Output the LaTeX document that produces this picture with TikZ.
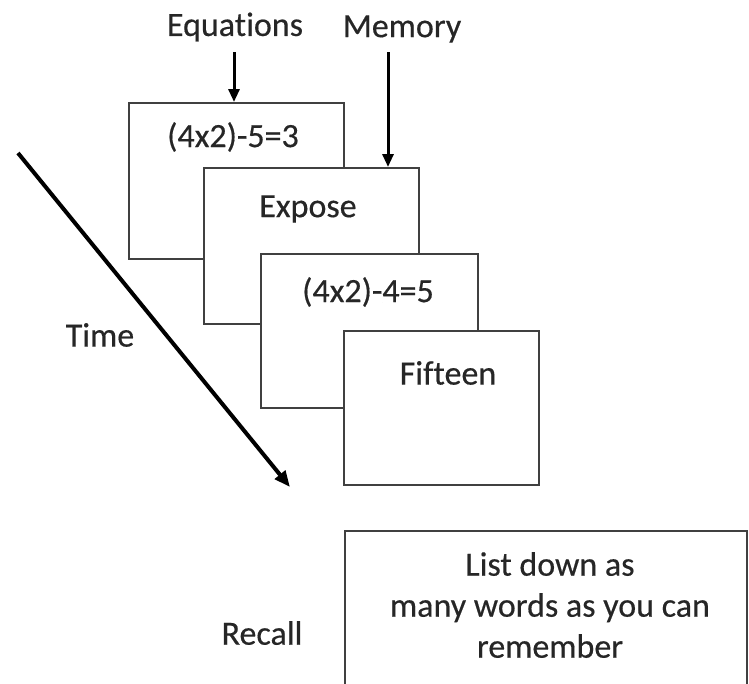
\documentclass[tikz,border=0pt]{standalone}
\usepackage{fontspec}
\setmainfont[Ligatures={NoCommon},FakeBold=0.4]{Carlito}
\usetikzlibrary{arrows.meta}
\begin{document}
\begin{tikzpicture}[x=1pt,y=-1pt,
  card/.style={draw=black!75,line width=2pt,fill=white,inner sep=0pt,anchor=north west},
  lbl/.style={text=black!85,font=\fontsize{34}{41}\selectfont,inner sep=0pt},
  arr/.style={draw=black,line width=3pt,-{Triangle[length=13pt,width=11pt]}},
  tarr/.style={draw=black,line width=4pt,-{Triangle[length=16pt,width=13pt]}}]
\useasboundingbox (0,0) rectangle (749,683);
% cards
\node[card,minimum width=215pt,minimum height=156pt] (b1) at (128,102) {};
\node[card,minimum width=215pt,minimum height=156pt] (b2) at (203,167) {};
\node[card,minimum width=217pt,minimum height=154pt] (b3) at (260,253) {};
\node[card,minimum width=195pt,minimum height=154pt] (b4) at (343,330) {};
\coordinate (r1) at (345,690);
\coordinate (r2) at (345,531);
\coordinate (r3) at (747,531);
\coordinate (r4) at (747,690);
\draw[black!75,line width=2pt] (r1) -- (r2) -- (r3) -- (r4);
% texts
\node[lbl] (t1) at (233,137) {(4x2)-5=3};
\node[lbl] (t2) at (308,209) {Expose};
\node[lbl] (t3) at (368,292) {(4x2)-4=5};
\node[lbl] (t4) at (448,373) {Fifteen};
\node[lbl,align=center] (t5) at (550,605) {List down as\\many words as you can\\remember};
\node[lbl] (eq) at (235,27) {Equations};
\node[lbl] (mem) at (402,29) {Memory};
\node[lbl] (time) at (100,335) {Time};
\node[lbl] (recall) at (262,633) {Recall};
% arrows
\coordinate (eqs) at (234,52);
\coordinate (mems) at (388,52);
\draw[arr] (eqs) -- (eqs |- b1.north);
\draw[arr] (mems) -- (mems |- b2.north);
\coordinate (ts) at (18,153);
\coordinate (te) at (290,487);
\draw[tarr] (ts) -- (te);
\end{tikzpicture}
\end{document}
